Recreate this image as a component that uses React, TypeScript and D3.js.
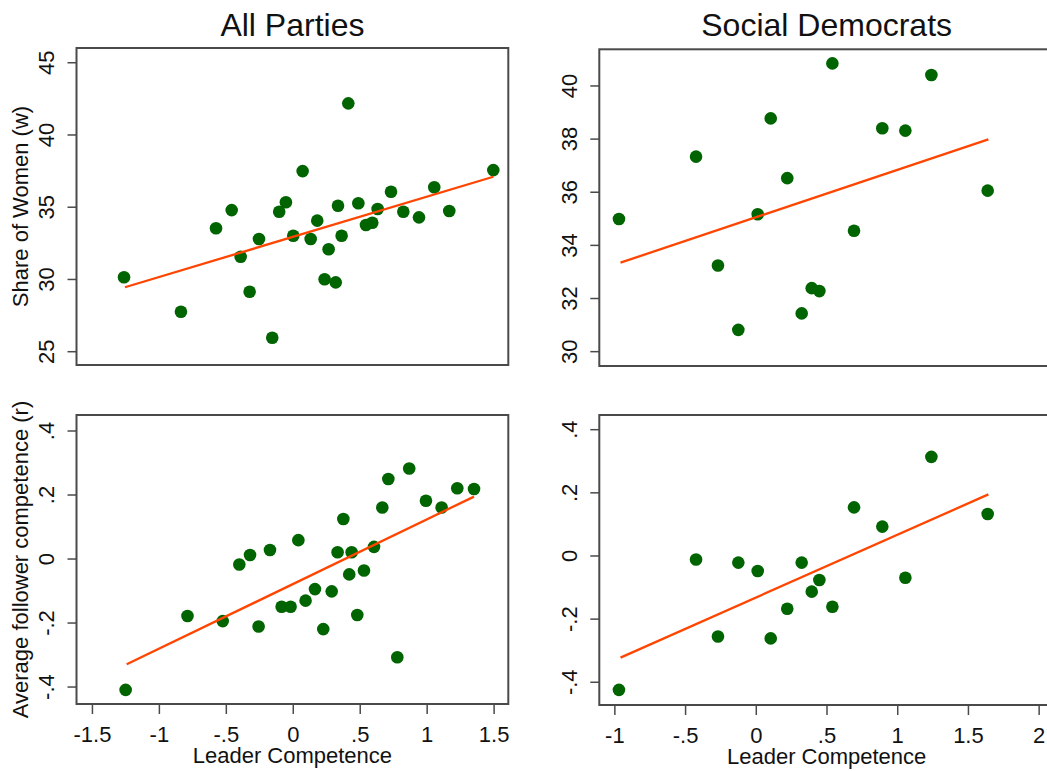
import React from "react";
import * as d3 from "d3";

// ---------- Data ----------
// All Parties: Share of Women vs Leader Competence
const allWomenX = [-1.264, -0.839, -0.577, -0.46, -0.393, -0.326, -0.256, -0.157, -0.105, -0.055, 0.0, 0.07, 0.13, 0.179, 0.234, 0.264, 0.317, 0.334, 0.361, 0.411, 0.486, 0.543, 0.59, 0.63, 0.73, 0.822, 0.939, 1.053, 1.165, 1.494];
const allWomenY = [30.15, 27.77, 33.54, 34.8, 31.57, 29.15, 32.8, 25.97, 34.69, 35.34, 33.03, 37.5, 32.8, 34.07, 30.01, 32.09, 29.8, 35.1, 33.03, 42.19, 35.27, 33.77, 33.93, 34.88, 36.07, 34.69, 34.3, 36.38, 34.74, 37.57];
const allWomenFitX = [-1.257, 1.494];
const allWomenFitY = [29.46, 37.11];

// All Parties: Average follower competence vs Leader Competence
const allFollowX = [-1.252, -0.79, -0.527, -0.403, -0.323, -0.259, -0.174, -0.087, -0.02, 0.038, 0.092, 0.162, 0.224, 0.287, 0.331, 0.374, 0.418, 0.436, 0.478, 0.528, 0.603, 0.665, 0.71, 0.777, 0.866, 0.991, 1.108, 1.225, 1.35];
const allFollowY = [-0.409, -0.178, -0.194, -0.017, 0.0125, -0.211, 0.028, -0.149, -0.149, 0.059, -0.13, -0.094, -0.219, -0.101, 0.021, 0.125, -0.048, 0.021, -0.175, -0.036, 0.038, 0.161, 0.25, -0.307, 0.283, 0.182, 0.161, 0.221, 0.219];
const allFollowFitX = [-1.244, 1.35];
const allFollowFitY = [-0.329, 0.195];

// Social Democrats
const sdX = [-0.971, -0.426, -0.271, -0.127, 0.01, 0.102, 0.219, 0.321, 0.392, 0.446, 0.538, 0.691, 0.891, 1.054, 1.238, 1.636];
const sdWomenY = [34.99, 37.34, 33.24, 30.82, 35.17, 38.78, 36.53, 31.44, 32.39, 32.28, 40.85, 34.55, 38.41, 38.32, 40.41, 36.06];
const sdWomenFitX = [-0.96, 1.641];
const sdWomenFitY = [33.35, 37.99];
const sdFollowY = [-0.424, -0.011, -0.255, -0.021, -0.0475, -0.261, -0.167, -0.021, -0.113, -0.076, -0.161, 0.154, 0.093, -0.069, 0.314, 0.133];
const sdFollowFitX = [-0.96, 1.641];
const sdFollowFitY = [-0.322, 0.195];

// Ticks and labels
const titles = ["All Parties", "Social Democrats"];
const womenTicksAll = [25, 30, 35, 40, 45];
const womenTicksSD = [30, 32, 34, 36, 38, 40];
const followTicks = [-0.4, -0.2, 0, 0.2, 0.4];
const xTicksAll = [-1.5, -1, -0.5, 0, 0.5, 1, 1.5];
const xTicksSD = [-1, -0.5, 0, 0.5, 1, 1.5, 2];
const yLabelTop = "Share of Women (w)";
const yLabelBottom = "Average follower competence (r)";
const xLabel = "Leader Competence";

// ---------- Styling ----------
const FONT = "'Liberation Sans', Arial, sans-serif";
const POINT = "rgb(0,100,0)";
const LINE = "rgb(255,69,0)";
const AXIS = "#4a4a4a";
const TEXT = "#111";

const fmt = (v: number) => {
  if (v === 0) return "0";
  let s = String(Math.round(v * 100) / 100);
  s = s.replace(/^0\./, ".").replace(/^-0\./, "-.");
  return s;
};

type PanelProps = {
  left: number; right: number; top: number; bottom: number;
  xDomain: [number, number]; yDomain: [number, number];
  xs: number[]; ys: number[]; fitX: number[]; fitY: number[];
  yTicks: number[]; xTicks?: number[]; yLabel?: string; xLabel?: string; title?: string;
};

function Panel(p: PanelProps) {
  const x = d3.scaleLinear().domain(p.xDomain).range([p.left, p.right]);
  const y = d3.scaleLinear().domain(p.yDomain).range([p.bottom, p.top]);
  const line = d3.line<number>().x((d) => x(p.fitX[d])).y((d) => y(p.fitY[d]));
  const cx = (p.left + p.right) / 2;
  const cy = (p.top + p.bottom) / 2;
  return (
    <g>
      {p.title && (
        <text x={cx} y={36} textAnchor="middle" fontSize={32} fill={TEXT} fontFamily={FONT}>{p.title}</text>
      )}
      <rect x={p.left} y={p.top} width={p.right - p.left} height={p.bottom - p.top} fill="none" stroke={AXIS} strokeWidth={2} />
      {p.yTicks.map((t) => (
        <g key={"y" + t}>
          <line x1={p.left - 9} x2={p.left} y1={y(t)} y2={y(t)} stroke={AXIS} strokeWidth={1.5} />
          <text x={p.left - 22} y={y(t)} transform={`rotate(-90, ${p.left - 22}, ${y(t)})`} textAnchor="middle" fontSize={22} fill={TEXT} fontFamily={FONT}>{fmt(t)}</text>
        </g>
      ))}
      {p.xTicks && p.xTicks.map((t) => (
        <g key={"x" + t}>
          <line x1={x(t)} x2={x(t)} y1={p.bottom} y2={p.bottom + 10} stroke={AXIS} strokeWidth={1.5} />
          <text x={x(t)} y={p.bottom + 38} textAnchor="middle" fontSize={22} fill={TEXT} fontFamily={FONT}>{fmt(t)}</text>
        </g>
      ))}
      {p.yLabel && (
        <text x={27.5} y={cy} transform={`rotate(-90, 27.5, ${cy})`} textAnchor="middle" fontSize={22} fill={TEXT} fontFamily={FONT}>{p.yLabel}</text>
      )}
      {p.xLabel && (
        <text x={cx} y={p.bottom + 59} textAnchor="middle" fontSize={22} fill={TEXT} fontFamily={FONT}>{p.xLabel}</text>
      )}
      {p.xs.map((v, i) => (
        <circle key={i} cx={x(v)} cy={y(p.ys[i])} r={6.3} fill={POINT} />
      ))}
      <path d={line(d3.range(p.fitX.length)) || ""} fill="none" stroke={LINE} strokeWidth={2.3} />
    </g>
  );
}

export default function App() {
  const leftA = 76.5, rightA = 508.3, leftB = 599.3, rightB = 1054;
  const xDomA: [number, number] = [-1.619, 1.606];
  const xDomB: [number, number] = [-1.11, 2.105];
  return (
    <div style={{ position: "absolute", left: 0, top: 0 }}>
      <svg width={1047} height={771} style={{ display: "block", background: "#fff" }}>
        <Panel left={leftA} right={rightA} top={48} bottom={365} xDomain={xDomA} yDomain={[24.08, 46.02]}
          xs={allWomenX} ys={allWomenY} fitX={allWomenFitX} fitY={allWomenFitY}
          yTicks={womenTicksAll} yLabel={yLabelTop} title={titles[0]} />
        <Panel left={leftB} right={rightB} top={49.3} bottom={366} xDomain={xDomB} yDomain={[29.46, 41.38]}
          xs={sdX} ys={sdWomenY} fitX={sdWomenFitX} fitY={sdWomenFitY}
          yTicks={womenTicksSD} title={titles[1]} />
        <Panel left={leftA} right={rightA} top={415} bottom={704} xDomain={xDomA} yDomain={[-0.453, 0.45]}
          xs={allFollowX} ys={allFollowY} fitX={allFollowFitX} fitY={allFollowFitY}
          yTicks={followTicks} xTicks={xTicksAll} yLabel={yLabelBottom} xLabel={xLabel} />
        <Panel left={leftB} right={rightB} top={415} bottom={705} xDomain={xDomB} yDomain={[-0.472, 0.4465]}
          xs={sdX} ys={sdFollowY} fitX={sdFollowFitX} fitY={sdFollowFitY}
          yTicks={followTicks} xTicks={xTicksSD} xLabel={xLabel} />
      </svg>
    </div>
  );
}
